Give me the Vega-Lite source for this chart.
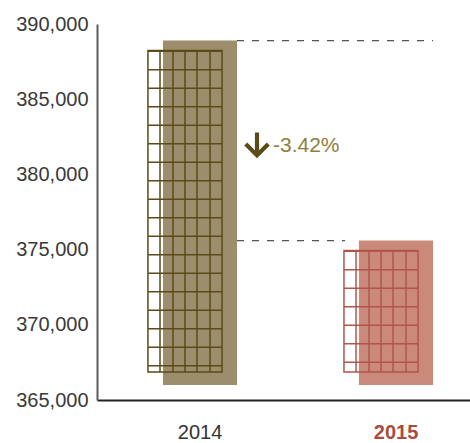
{
  "$schema": "https://vega.github.io/schema/vega-lite/v6.json",
  "autosize": {"type": "none"},
  "padding": {"left": 97, "top": 24, "right": 0, "bottom": 43},
  "width": 373,
  "height": 376,
  "background": "white",
  "config": {
    "view": {"stroke": null},
    "font": "Liberation Sans"
  },
  "data": {
    "values": [
      {"year": "2014", "value": 388900},
      {"year": "2015", "value": 375600}
    ]
  },
  "encoding": {
    "x": {
      "field": "year",
      "type": "nominal",
      "scale": {"domain": ["2014", "2015"], "paddingInner": 0.622, "paddingOuter": 0.2625, "align": 0.641, "round": false},
      "axis": {
        "title": null,
        "labelAngle": 0,
        "ticks": false,
        "labelFont": "Liberation Sans",
        "labelFontSize": 20,
        "labelPadding": 22,
        "labelColor": {"condition": {"test": "datum.value == '2015'", "value": "#a84c3c"}, "value": "#333333"},
        "labelFontWeight": {"condition": {"test": "datum.value == '2015'", "value": "bold"}, "value": "normal"},
        "domainColor": "#222222",
        "domainWidth": 2
      }
    },
    "y": {
      "field": "value",
      "type": "quantitative",
      "scale": {"domain": [365000, 390000], "nice": false, "zero": false},
      "axis": {
        "title": null,
        "values": [365000, 370000, 375000, 380000, 385000, 390000],
        "format": ",d",
        "grid": false,
        "ticks": false,
        "labelFont": "Liberation Sans",
        "labelFontSize": 20,
        "labelColor": "#3a3a3a",
        "labelPadding": 9,
        "domainColor": "#5a5a5a",
        "domainWidth": 2
      }
    }
  },
  "layer": [
    {
      "mark": {"type": "bar", "y2Offset": -15},
      "encoding": {
        "y2": {"datum": 365000},
        "color": {"condition": {"test": "datum.year == '2015'", "value": "#c98a7b"}, "value": "#9c8e6d"}
      }
    },
    {
      "mark": {"type": "bar", "xOffset": -15, "yOffset": 10, "y2Offset": -28, "fillOpacity": 0, "strokeWidth": 1.5},
      "encoding": {
        "y2": {"datum": 365000},
        "stroke": {"condition": {"test": "datum.year == '2015'", "value": "#b3554a"}, "value": "#5b4b16"}
      }
    },
    {
      "mark": {"type": "rule", "xOffset": -15, "yOffset": 10, "y2Offset": -28, "strokeWidth": 74, "strokeDash": [1.5, 17], "strokeCap": "butt"},
      "encoding": {
        "y2": {"datum": 365000},
        "stroke": {"condition": {"test": "datum.year == '2015'", "value": "#b3554a"}, "value": "#5b4b16"}
      }
    },
    {
      "mark": {"type": "rule", "xOffset": -40, "yOffset": 10, "y2Offset": -28, "strokeWidth": 1.5},
      "encoding": {
        "y2": {"datum": 365000},
        "stroke": {"condition": {"test": "datum.year == '2015'", "value": "#b3554a"}, "value": "#5b4b16"}
      }
    },
    {
      "mark": {"type": "rule", "xOffset": -27, "yOffset": 10, "y2Offset": -28, "strokeWidth": 1.5},
      "encoding": {
        "y2": {"datum": 365000},
        "stroke": {"condition": {"test": "datum.year == '2015'", "value": "#b3554a"}, "value": "#5b4b16"}
      }
    },
    {
      "mark": {"type": "rule", "xOffset": -15, "yOffset": 10, "y2Offset": -28, "strokeWidth": 1.5},
      "encoding": {
        "y2": {"datum": 365000},
        "stroke": {"condition": {"test": "datum.year == '2015'", "value": "#b3554a"}, "value": "#5b4b16"}
      }
    },
    {
      "mark": {"type": "rule", "xOffset": -3, "yOffset": 10, "y2Offset": -28, "strokeWidth": 1.5},
      "encoding": {
        "y2": {"datum": 365000},
        "stroke": {"condition": {"test": "datum.year == '2015'", "value": "#b3554a"}, "value": "#5b4b16"}
      }
    },
    {
      "mark": {"type": "rule", "xOffset": 10, "yOffset": 10, "y2Offset": -28, "strokeWidth": 1.5},
      "encoding": {
        "y2": {"datum": 365000},
        "stroke": {"condition": {"test": "datum.year == '2015'", "value": "#b3554a"}, "value": "#5b4b16"}
      }
    },
    {
      "transform": [{"filter": "datum.year == '2014'"}],
      "mark": {"type": "rule", "xOffset": 37, "x2Offset": 37, "strokeDash": [7, 8], "strokeWidth": 1.2, "color": "#555555"},
      "encoding": {
        "x": {"datum": "2014"},
        "x2": {"datum": "2015"}
      }
    },
    {
      "transform": [{"filter": "datum.year == '2015'"}],
      "mark": {"type": "rule", "xOffset": 37, "x2Offset": -51, "strokeDash": [7, 8], "strokeWidth": 1.2, "color": "#555555"},
      "encoding": {
        "x": {"datum": "2014"},
        "x2": {"datum": "2015"}
      }
    },
    {
      "data": {"values": [{"year": "2014", "value": 381900, "label": "-3.42%"}]},
      "mark": {
        "type": "point",
        "shape": "M -0.17 -1 L 0.17 -1 L 0.17 0.45 L 0.8 -0.18 L 1.04 0.06 L 0 1.1 L -1.04 0.06 L -0.8 -0.18 L -0.17 0.45 Z",
        "size": 600,
        "filled": true,
        "opacity": 1,
        "strokeWidth": 0,
        "color": "#5b4b16",
        "xOffset": 57,
        "yOffset": -1
      }
    },
    {
      "data": {"values": [{"year": "2014", "value": 381900, "label": "-3.42%"}]},
      "mark": {"type": "text", "font": "Liberation Sans", "fontSize": 21, "color": "#8f7e3b", "align": "left", "baseline": "middle", "xOffset": 73},
      "encoding": {"text": {"field": "label"}}
    }
  ]
}
